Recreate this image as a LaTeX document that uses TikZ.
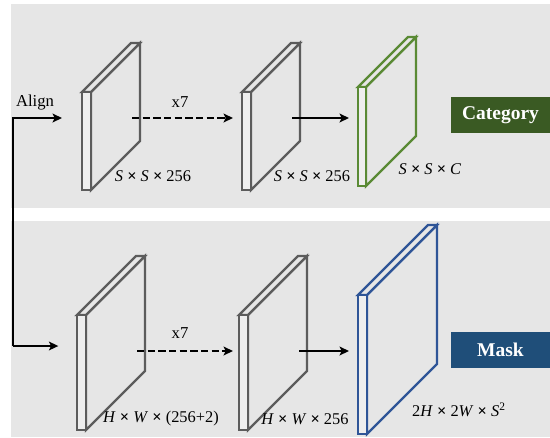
\documentclass[tikz,border=0pt]{standalone}
\usepackage{fontspec}
\setmainfont{Liberation Serif}
\usetikzlibrary{arrows.meta}
\definecolor{panelgray}{HTML}{E6E6E6}
\definecolor{facegray}{HTML}{EEEEEE}
\definecolor{slabgray}{HTML}{5C5C5C}
\definecolor{catgreen}{HTML}{5A8A35}
\definecolor{catbox}{HTML}{3A5A23}
\definecolor{maskblue}{HTML}{2F5597}
\definecolor{maskbox}{HTML}{1F4E79}

\tikzset{
  slab/.style={line width=1.8pt, fill=panelgray, line join=miter},
  dim/.style={font=\fontsize{12.3}{14}\selectfont, inner sep=0pt},
  note/.style={font=\fontsize{12.5}{14}\selectfont, inner sep=0pt},
  tag/.style={font=\fontsize{14.6}{16}\selectfont\bfseries, text=white,
    minimum width=74.25pt, minimum height=27pt, inner sep=0pt},
  link/.style={line width=1.5pt, line join=miter, -{Stealth[length=7pt,width=6.5pt,inset=1.5pt]}},
}

% thin feature-map slab: name, x, y, thickness, height, depth, colour, arrow row
\newcommand{\slab}[8]{%
  \draw[slab, draw=#7] (#2+#4,#3) -- ++(#6,-#6) -- ++(0,#5) -- ++(-#6,#6) -- cycle;
  \draw[slab, draw=#7] (#2,#3) -- ++(#6,-#6) -- ++(#4,0) -- ++(-#6,#6) -- cycle;
  \draw[slab, draw=#7, fill=facegray] (#2,#3) rectangle ++(#4,#5);
  \coordinate (#1-in) at (#2,#8);
  \coordinate (#1-out) at (#2+#4+#6-8,#8);
}
\newcommand{\by}{ \textbf{×} }

\begin{document}
\begin{tikzpicture}[x=0.75pt,y=-0.75pt]
  \useasboundingbox (0,0) rectangle (550,437);
  % the two panels
  \fill[panelgray] (11,4) rectangle (550,208);
  \fill[panelgray] (11,221) rectangle (550,437);

  % category branch
  \slab{t1}{82}{92}{9}{98}{49}{slabgray}{118}
  \slab{t2}{242}{92}{9}{98}{49}{slabgray}{118}
  \slab{t3}{358}{87}{8}{99}{50}{catgreen}{118}
  \node[tag, fill=catbox] (cat) at (500.5,115) {Category};

  % mask branch
  \slab{b1}{77}{315}{9}{115}{59}{slabgray}{351}
  \slab{b2}{239}{315}{9}{115}{59}{slabgray}{351}
  \slab{b3}{358}{295}{9}{139}{70}{maskblue}{351}
  \node[tag, fill=maskbox] (mask) at (500.5,350) {Mask};

  % labels
  \node[note] (align) at (35,103) {Align};
  \node[note] (rep1) at (180,102) {x7};
  \node[note] (rep2) at (180,333) {x7};
  \node[dim] (t1-dim) at (153,176) {\textit{S}\by\textit{S}\by256};
  \node[dim] (t2-dim) at (312,176) {\textit{S}\by\textit{S}\by256};
  \node[dim] (t3-dim) at (430,169) {\textit{S}\by\textit{S}\by\textit{C}};
  \node[dim] (b1-dim) at (161,419) {\textit{H}\by\textit{W}\by(256+2)};
  \node[dim] (b2-dim) at (305,419) {\textit{H}\by\textit{W}\by256};
  \node[dim] (b3-dim) at (459,410) {2\textit{H}\by2\textit{W}\by\textit{S}\textsuperscript{2}};

  % connectors
  \coordinate (split) at (13,346);
  \draw[link, shorten >=15pt] (split) |- (t1-in);
  \draw[link, shorten >=14pt] (split) -- (split -| b1-in);
  \draw[link, dash pattern=on 5.5pt off 2.5pt, shorten >=6.75pt] (t1-out) -- (t2-in);
  \draw[link, shorten >=6.75pt] (t2-out) -- (t3-in);
  \draw[link, dash pattern=on 5.5pt off 2.5pt, shorten >=4.5pt] (b1-out) -- (b2-in);
  \draw[link, shorten >=6.75pt] (b2-out) -- (b3-in);
\end{tikzpicture}
\end{document}
